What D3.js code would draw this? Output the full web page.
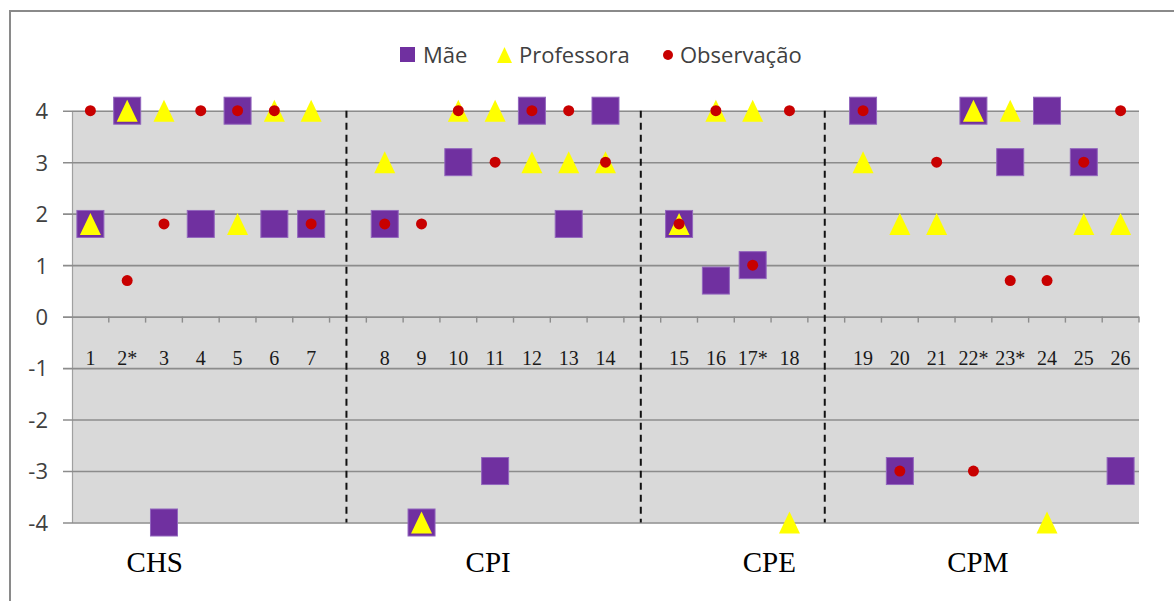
<!DOCTYPE html>
<html>
<head>
<meta charset="utf-8">
<script src="https://cdn.jsdelivr.net/npm/d3@7"></script>
<style>
  html, body { margin: 0; padding: 0; background: #fff; }
  svg { display: block; }
</style>
</head>
<body>
<svg id="chart" width="1174" height="601"></svg>
<script>
// categories (asterisk marks are part of the label)
const categories = ['1', '2*', '3', '4', '5', '6', '7',
  '8', '9', '10', '11', '12', '13', '14',
  '15', '16', '17*', '18',
  '19', '20', '21', '22*', '23*', '24', '25', '26'];
const groups = ['CHS', 'CPI', 'CPE', 'CPM'];
const groupSizes = [7, 7, 4, 8];
const yTicks = [-4, -3, -2, -1, 0, 1, 2, 3, 4];

// series values, null = no marker
const mae = [1.8, 4, -4, 1.8, 4, 1.8, 1.8,
  1.8, -4, 3, -3, 4, 1.8, 4,
  1.8, 0.7, 1, null,
  4, -3, null, 4, 3, 4, 3, -3];
const professora = [1.8, 4, 4, null, 1.8, 4, 4,
  3, -4, 4, 4, 3, 3, 3,
  1.8, 4, 4, -4,
  3, 1.8, 1.8, 4, 4, -4, 1.8, 1.8];
const observacao = [4, 0.7, 1.8, 4, 4, 4, 1.8,
  1.8, 1.8, 4, 3, 4, 4, 3,
  1.8, 4, 1, 4,
  4, -3, 3, -3, 0.7, 0.7, 3, 4];

const legendItems = ['Mãe', 'Professora', 'Observação'];

const width = 1174;
const height = 601;
const plot = { left: 72, right: 1139, top: 110.7, bottom: 522.5 };

const svg = d3.select('#chart');

// outer frame (cut by the picture on the right and bottom)
svg.append('rect')
  .attr('x', 10)
  .attr('y', 11)
  .attr('width', width + 20)
  .attr('height', height + 20)
  .attr('fill', '#fff')
  .attr('stroke', '#8a8a8a')
  .attr('stroke-width', 2);

// x domain: categories with an empty slot between groups
const domain = [];
const gapKeys = [];
let k = 0;
groupSizes.forEach((n, gi) => {
  for (let i = 0; i < n; i++) domain.push(categories[k++]);
  if (gi < groupSizes.length - 1) {
    const key = 'gap' + gi;
    domain.push(key);
    gapKeys.push(key);
  }
});

const x = d3.scaleBand()
  .domain(domain)
  .range([plot.left, plot.right])
  .paddingInner(0)
  .paddingOuter(0);

const y = d3.scaleLinear()
  .domain([-4, 4])
  .range([plot.bottom, plot.top]);

const cx = c => x(c) + x.bandwidth() / 2;

// plot background
svg.append('rect')
  .attr('x', plot.left)
  .attr('y', y(4))
  .attr('width', plot.right - plot.left)
  .attr('height', y(-4) - y(4))
  .attr('fill', '#d9d9d9');

// gridlines + y axis
const yAxis = d3.axisLeft(y)
  .tickValues(yTicks)
  .tickSize(-(plot.right - plot.left))
  .tickSizeOuter(0)
  .tickFormat(d3.format('d'));

const gy = svg.append('g')
  .attr('transform', `translate(${plot.left},0)`)
  .call(yAxis);

gy.select('.domain')
  .attr('stroke', '#a0a0a0')
  .attr('stroke-width', 1.2);

gy.selectAll('.tick line')
  .attr('x1', -9)
  .attr('stroke', '#8c8c8c')
  .attr('stroke-width', 1.6);

gy.selectAll('.tick text')
  .attr('x', -24)
  .attr('dy', '0.36em')
  .attr('fill', '#404040')
  .style('font-family', '"Open Sans", sans-serif')
  .style('font-size', '22px')
  .text(d => d < 0 ? '-' + Math.abs(d) : d);

// tick marks on the zero line, one per slot boundary
const boundaries = domain.map(d => x(d) + x.bandwidth());
svg.append('g')
  .selectAll('line')
  .data(boundaries)
  .join('line')
  .attr('x1', d => d)
  .attr('x2', d => d)
  .attr('y1', y(0))
  .attr('y2', y(0) + 6)
  .attr('stroke', '#8c8c8c')
  .attr('stroke-width', 1.4);

// category labels
svg.append('g')
  .selectAll('text')
  .data(categories)
  .join('text')
  .attr('x', d => cx(d))
  .attr('y', 365)
  .attr('text-anchor', 'middle')
  .attr('fill', '#1a1a1a')
  .style('font-family', '"Liberation Serif", "Times New Roman", serif')
  .style('font-size', '20px')
  .text(d => d);

// dashed separators between groups
svg.append('g')
  .selectAll('line')
  .data(gapKeys)
  .join('line')
  .attr('x1', d => cx(d) - 1.5)
  .attr('x2', d => cx(d) - 1.5)
  .attr('y1', y(4))
  .attr('y2', y(-4))
  .attr('stroke', '#111')
  .attr('stroke-width', 2)
  .attr('stroke-dasharray', '7,5');

// group labels (not centred on their group in the original)
const groupOffsets = [-46, -7, 35, -14];
let start = 0;
const groupCenters = groupSizes.map((n, i) => {
  const first = categories[start];
  const last = categories[start + n - 1];
  start += n;
  return (cx(first) + cx(last)) / 2 + groupOffsets[i];
});

svg.append('g')
  .selectAll('text')
  .data(groups)
  .join('text')
  .attr('x', (d, i) => groupCenters[i])
  .attr('y', 572)
  .attr('text-anchor', 'middle')
  .attr('fill', '#000')
  .style('font-family', '"Liberation Serif", "Times New Roman", serif')
  .style('font-size', '29px')
  .text(d => d);

// markers
const sq = 27;
const triPath = 'M0,-11L10.5,11L-10.5,11Z';

const pts = (arr) => categories
  .map((c, i) => ({ c, v: arr[i] }))
  .filter(d => d.v !== null);

svg.append('g')
  .selectAll('rect')
  .data(pts(mae))
  .join('rect')
  .attr('x', d => cx(d.c) - sq / 2)
  .attr('y', d => y(d.v) - sq / 2)
  .attr('width', sq)
  .attr('height', sq)
  .attr('fill', '#7030a0')
  .attr('stroke', '#9266bd')
  .attr('stroke-width', 1);

svg.append('g')
  .selectAll('path')
  .data(pts(professora))
  .join('path')
  .attr('transform', d => `translate(${cx(d.c)},${y(d.v)})`)
  .attr('d', triPath)
  .attr('fill', '#ffff00');

svg.append('g')
  .selectAll('circle')
  .data(pts(observacao))
  .join('circle')
  .attr('cx', d => cx(d.c))
  .attr('cy', d => y(d.v))
  .attr('r', 5.5)
  .attr('fill', '#c80000');

// legend
const legend = svg.append('g');
const legendX = [400, 497, 663];
const legendTextX = [423, 519, 680];

legend.append('rect')
  .attr('x', legendX[0])
  .attr('y', 47)
  .attr('width', 15)
  .attr('height', 15)
  .attr('fill', '#7030a0');

legend.append('path')
  .attr('transform', `translate(${legendX[1] + 7.5},55)`)
  .attr('d', 'M0,-8L7.5,8L-7.5,8Z')
  .attr('fill', '#ffff00');

legend.append('circle')
  .attr('cx', legendX[2] + 5)
  .attr('cy', 55)
  .attr('r', 5)
  .attr('fill', '#c80000');

legend.selectAll('text')
  .data(legendItems)
  .join('text')
  .attr('x', (d, i) => legendTextX[i])
  .attr('y', 63)
  .attr('fill', '#404040')
  .style('font-family', '"Open Sans", sans-serif')
  .style('font-size', '22px')
  .text(d => d);
</script>
</body>
</html>
